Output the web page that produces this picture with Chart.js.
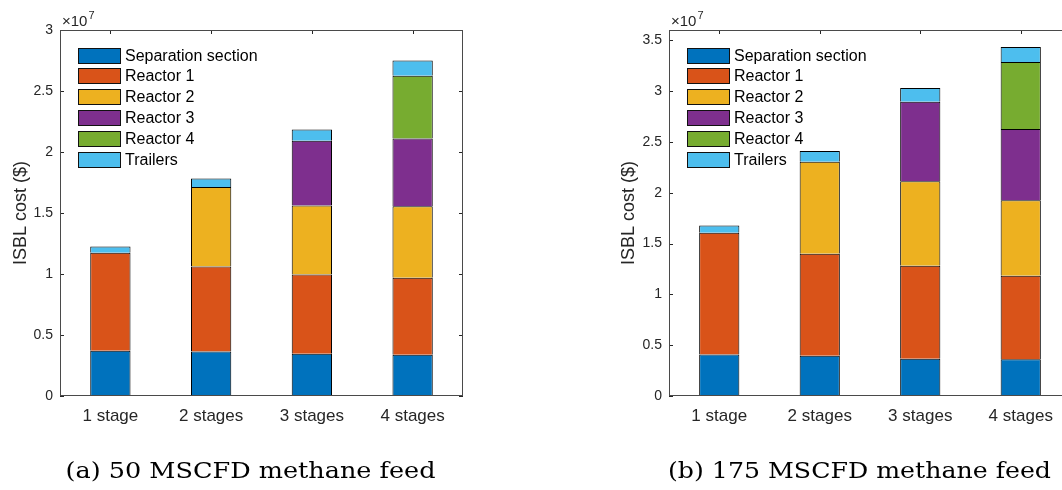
<!DOCTYPE html>
<html>
<head>
<meta charset="utf-8">
<script src="https://cdn.jsdelivr.net/npm/chart.js@4/dist/chart.umd.min.js"></script>
<style>
  html, body { margin: 0; padding: 0; background: #fff; overflow: hidden; }
  #wrap { position: relative; width: 1062px; height: 490px; overflow: hidden; background: #fff; }
  #wrap canvas { position: absolute; top: 0; }
</style>
</head>
<body>
<div id="wrap">
  <canvas id="chartA" width="470" height="490" style="left:0px"></canvas>
  <canvas id="chartB" width="470" height="490" style="left:608px"></canvas>
</div>
<script>
// Categories and series
const stages = ['1 stage', '2 stages', '3 stages', '4 stages'];
const seriesNames = ['Separation section', 'Reactor 1', 'Reactor 2', 'Reactor 3', 'Reactor 4', 'Trailers'];
const seriesColors = ['#0072BD', '#D95319', '#EDB120', '#7E2F8E', '#77AC30', '#4DBEEE'];

// ISBL cost components, 50 MSCFD methane feed (units of 1e7 $)
const sep50 = [0.370, 0.364, 0.347, 0.339];
const r1_50 = [0.805, 0.697, 0.648, 0.631];
const r2_50 = [null, 0.652, 0.566, 0.585];
const r3_50 = [null, null, 0.532, 0.555];
const r4_50 = [null, null, null, 0.516];
const trl50 = [0.050, 0.069, 0.091, 0.123];

// ISBL cost components, 175 MSCFD methane feed (units of 1e7 $)
const sep175 = [0.407, 0.397, 0.367, 0.361];
const r1_175 = [1.198, 1.002, 0.914, 0.822];
const r2_175 = [null, 0.904, 0.831, 0.742];
const r3_175 = [null, null, 0.783, 0.702];
const r4_175 = [null, null, null, 0.658];
const trl175 = [0.072, 0.108, 0.134, 0.147];

// Axis settings
const yMax50 = 3;
const yMax175 = 3.6;
const yStep = 0.5;
const yTitle = 'ISBL cost ($)';
const captionA = '(a) 50 MSCFD methane feed';
const captionB = '(b) 175 MSCFD methane feed';

const AXIS_COLOR = '#262626';
const SANS = '"Liberation Sans", Arial, Helvetica, sans-serif';

Chart.defaults.font.family = SANS;
Chart.defaults.color = AXIS_COLOR;

// Inside tick marks, axes box, in-plot legend, exponent label and caption
const decor = {
  id: 'decor',
  beforeDatasetsDraw(chart) {
    const { ctx, chartArea: a, scales: { x, y } } = chart;
    ctx.save();
    ctx.strokeStyle = AXIS_COLOR;
    ctx.lineWidth = 1;
    ctx.beginPath();
    y.ticks.forEach(t => {
      const py = Math.round(y.getPixelForValue(t.value)) + 0.5;
      ctx.moveTo(a.left, py); ctx.lineTo(a.left + 4, py);
      ctx.moveTo(a.right, py); ctx.lineTo(a.right - 4, py);
    });
    x.ticks.forEach((t, i) => {
      const px = Math.round(x.getPixelForTick(i)) + 0.5;
      ctx.moveTo(px, a.bottom); ctx.lineTo(px, a.bottom - 4);
      ctx.moveTo(px, a.top); ctx.lineTo(px, a.top + 4);
    });
    ctx.stroke();
    ctx.restore();
  },
  afterDatasetsDraw(chart, args, opts) {
    const { ctx, chartArea: a } = chart;
    ctx.save();

    // axes box
    const L = Math.round(a.left) + 0.5, R = Math.round(a.right) - 0.5;
    const T = Math.round(a.top) + 0.5, B = Math.round(a.bottom) - 0.5;
    ctx.strokeStyle = '#4a4a4a';
    ctx.lineWidth = 1;
    ctx.strokeRect(L, T, R - L, B - T);

    // legend (no frame), listed in dataset order
    const lx = a.left + 18, ly = a.top + 17.6, rowH = 20.8, pw = 43, ph = 16;
    ctx.font = '16px ' + SANS;
    ctx.textBaseline = 'middle';
    ctx.textAlign = 'left';
    chart.data.datasets.forEach((ds, i) => {
      const py = Math.round(ly + i * rowH);
      ctx.fillStyle = ds.backgroundColor;
      ctx.fillRect(lx, py, pw, ph);
      ctx.strokeStyle = '#111';
      ctx.strokeRect(Math.round(lx) + 0.5, py + 0.5, pw - 1, ph - 1);
      ctx.fillStyle = '#000';
      ctx.fillText(ds.label, lx + pw + 4, py + ph / 2 + 1);
    });

    // exponent label above the y axis
    ctx.fillStyle = AXIS_COLOR;
    ctx.textBaseline = 'alphabetic';
    ctx.font = '15px ' + SANS;
    const baseX = a.left + 2, baseY = a.top - 4;
    ctx.fillText('\u00d710', baseX, baseY);
    const w = ctx.measureText('\u00d710').width;
    ctx.font = '11px ' + SANS;
    ctx.fillText('7', baseX + w + 1, baseY - 7);

    // caption below the axes
    ctx.fillStyle = '#000';
    ctx.font = '22px "DejaVu Serif", "Liberation Serif", serif';
    const cw = ctx.measureText(opts.caption).width;
    const sx = opts.captionWidth / cw;
    ctx.translate(a.left + opts.captionCenter - opts.captionWidth / 2, 478);
    ctx.scale(sx, 1);
    ctx.fillText(opts.caption, 0, 0);
    ctx.restore();
  }
};

function makeChart(id, seriesData, yMax, axisWidth, caption, captionWidth) {
  const datasets = seriesNames.map((name, i) => ({
    label: name,
    data: seriesData[i],
    backgroundColor: seriesColors[i],
    borderColor: '#000',
    borderWidth: 1,
    barPercentage: 0.4,
    categoryPercentage: 1.0,
    stack: 'cost'
  }));
  return new Chart(document.getElementById(id), {
    type: 'bar',
    data: { labels: stages, datasets },
    plugins: [decor],
    options: {
      responsive: false,
      animation: false,
      devicePixelRatio: 1,
      layout: { padding: { left: 0, top: 30, right: 7, bottom: 0 } },
      plugins: {
        legend: { display: false },
        tooltip: { enabled: false },
        decor: { caption, captionWidth, captionCenter: 190.5 }
      },
      scales: {
        x: {
          stacked: true,
          offset: true,
          grid: { display: false, drawTicks: false },
          border: { display: false },
          ticks: { font: { size: 17 }, color: AXIS_COLOR, padding: 10 },
          afterFit: s => { s.height = 490 - 396; }
        },
        y: {
          stacked: true,
          min: 0,
          max: yMax,
          grid: { display: false, drawTicks: false },
          border: { display: false },
          ticks: {
            stepSize: yStep,
            includeBounds: false,
            font: { size: 14 },
            color: AXIS_COLOR,
            padding: 7,
            callback: v => String(+v.toFixed(2))
          },
          title: {
            display: true,
            text: yTitle,
            font: { size: 18 },
            color: AXIS_COLOR,
            padding: { top: 10, bottom: 0 }
          },
          afterFit: s => { s.width = axisWidth; }
        }
      }
    }
  });
}

makeChart('chartA', [sep50, r1_50, r2_50, r3_50, r4_50, trl50], yMax50, 60, captionA, 370);
makeChart('chartB', [sep175, r1_175, r2_175, r3_175, r4_175, trl175], yMax175, 61, captionB, 383);
</script>
</body>
</html>
